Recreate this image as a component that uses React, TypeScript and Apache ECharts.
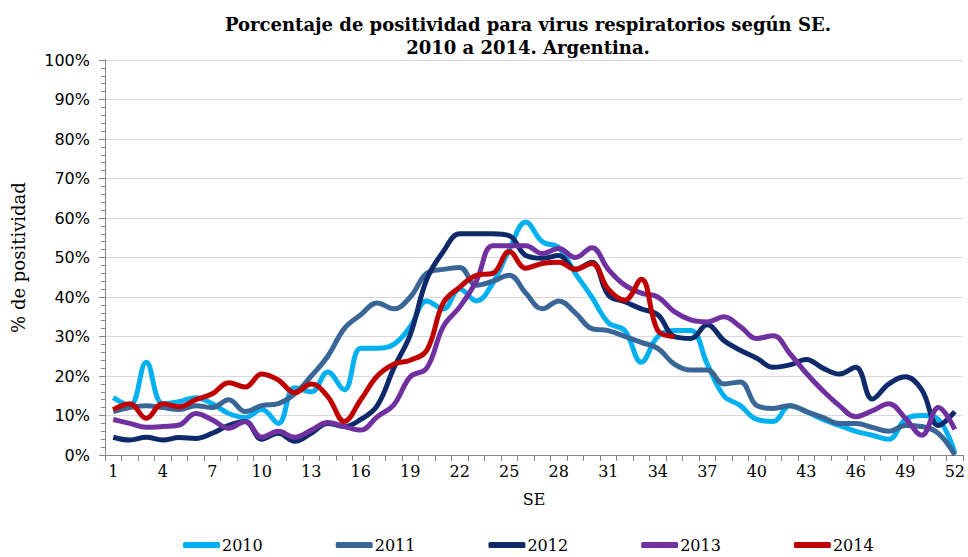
import React, { useEffect, useRef } from "react";
import * as echarts from "echarts";

const weeks: string[] = Array.from({ length: 52 }, (_, i) => String(i + 1));

const s2010 = [14.5, 12.5, 23.5, 13, 13.5, 14.5, 13, 10.5, 9.5, 11.5, 8, 17, 16, 21, 16.5, 27, 27, 28, 32.5, 39, 37, 42, 39, 43.5, 52, 59, 54, 52.5, 46, 40, 33.5, 31.5, 23.5, 30, 31.5, 31.5, 23, 15, 12.5, 9, 8.5, 12.5, 11, 9, 7.5, 6, 5, 4, 9, 10, 9, 0.5];
const s2011 = [11, 12, 12.5, 12, 11.5, 12.5, 12, 14, 11, 12.5, 13, 15.5, 20, 25, 32, 35.5, 38.5, 37, 40, 46, 47, 47.5, 43, 44, 45.5, 41, 37, 39, 36, 32, 31.5, 30, 28.5, 27, 23, 21.5, 21.5, 18, 18.5, 12.5, 11.8, 12.5, 11, 9.5, 8, 8, 7, 6, 7.5, 7.2, 5.5, 0];
const s2012 = [4.5, 3.8, 4.5, 3.8, 4.4, 4.2, 5.5, 7.5, 8.5, 4, 5.5, 3.5, 5.5, 8, 7.2, 9, 12.5, 22, 30.5, 44.5, 51.5, 56, 56, 56, 55.5, 50.5, 49.8, 50.5, 47, 48.8, 40.5, 38.8, 37, 35.5, 30, 29.5, 33, 29, 26.5, 24.5, 22.2, 22.8, 24.2, 22, 20.5, 22.2, 14.2, 18, 19.8, 16.5, 7.5, 11];
const s2013 = [9, 8, 7, 7.2, 7.6, 10.5, 8.9, 6.8, 8.5, 4.5, 6, 4.5, 6.3, 8.2, 7.2, 6.3, 9.7, 12.7, 19.8, 22, 32.5, 37.5, 44, 53, 53, 53, 51, 52.3, 50, 52.5, 47, 43, 41, 40, 36.3, 34.2, 33.7, 35, 32.5, 29.5, 30.2, 25.7, 20.7, 16.3, 12.5, 9.7, 11.2, 13, 9.3, 5, 12, 6.5];
const s2014 = [11.5, 13, 9.3, 13, 12.2, 14, 15.5, 18.3, 17.2, 20.5, 19, 15.8, 18, 14.8, 8.5, 14, 20, 23, 24, 26.5, 38.5, 42.5, 45.5, 46, 51.5, 47.3, 48.5, 48.8, 47, 48.5, 42, 39.2, 44.5, 31.5, 30];

const seriesNames = ["2010", "2011", "2012", "2013", "2014"];
const seriesData = [s2010, s2011, s2012, s2013, s2014];
const colors = ["#00b0f0", "#3a6597", "#0f2a6b", "#7030a0", "#c00000"];

const titleLines = ["Porcentaje de positividad para virus respiratorios según SE.", "2010 a 2014. Argentina."];
const yAxisName = "% de positividad";
const xAxisName = "SE";

export default function App() {
  const ref = useRef<HTMLDivElement>(null);
  useEffect(() => {
    if (!ref.current) return;
    const chart = echarts.init(ref.current, null, { renderer: "svg" });
    const serif = "DejaVu Serif";
    chart.setOption({
      animation: false,
      backgroundColor: "#ffffff",
      title: {
        text: titleLines.join("\n"),
        left: 523,
        top: 8,
        textAlign: "center",
        textStyle: { fontFamily: serif, fontWeight: "bold", fontSize: 18, color: "#000", lineHeight: 23 },
      },
      legend: {
        left: 183,
        top: 537,
        itemWidth: 37,
        itemHeight: 6,
        itemGap: 73,
        padding: 0,
        icon: "roundRect",
        textStyle: { fontFamily: serif, fontSize: 16, color: "#000", padding: [0, 0, 0, -3] },
        data: seriesNames,
      },
      grid: { left: 105, right: 4, top: 60, bottom: 102, containLabel: false },
      xAxis: {
        type: "category",
        data: weeks,
        boundaryGap: true,
        name: xAxisName,
        nameLocation: "middle",
        nameGap: 36,
        nameTextStyle: { fontFamily: serif, fontSize: 16, color: "#000" },
        axisLine: { lineStyle: { color: "#868686", width: 1 } },
        axisTick: { show: true, interval: 0, length: 6, lineStyle: { color: "#868686" } },
        axisLabel: { interval: 2, fontFamily: serif, fontSize: 16, color: "#000", margin: 8 },
      },
      yAxis: {
        type: "value",
        min: 0,
        max: 100,
        interval: 10,
        name: yAxisName,
        nameLocation: "middle",
        nameGap: 78,
        nameRotate: 90,
        nameTextStyle: { fontFamily: serif, fontSize: 18, color: "#000" },
        axisLine: { show: true, lineStyle: { color: "#868686", width: 1 } },
        axisTick: { show: true, length: 6, lineStyle: { color: "#868686" } },
        minorTick: { show: true, splitNumber: 5, length: 4, lineStyle: { color: "#868686" } },
        axisLabel: { fontFamily: "DejaVu Sans", fontSize: 16, color: "#000", margin: 15, formatter: "{value}%" },
        splitLine: { show: true, lineStyle: { color: "#d9d9d9", width: 1 } },
      },
      series: seriesData.map((d, i) => ({
        name: seriesNames[i],
        type: "line",
        data: d,
        smooth: 0.4,
        symbol: "none",
        color: colors[i],
        lineStyle: { width: 5, color: colors[i] },
      })),
    });
    return () => chart.dispose();
  }, []);
  return <div ref={ref} style={{ width: 968, height: 557, position: "absolute", left: 0, top: 0 }} />;
}
